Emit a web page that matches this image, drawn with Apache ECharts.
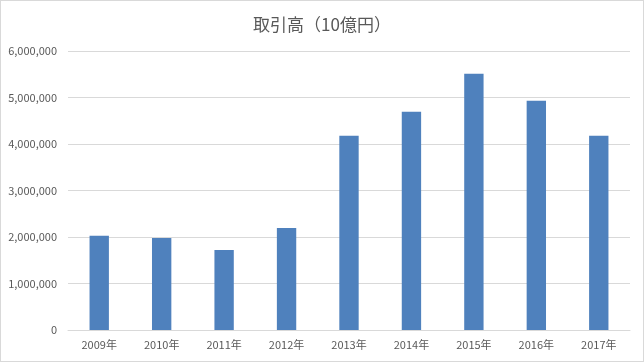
<!DOCTYPE html>
<html><head><meta charset="utf-8">
<script src="https://cdn.jsdelivr.net/npm/echarts@6/dist/echarts.min.js"></script>
<style>
html,body{margin:0;padding:0;background:#fff;}
#c{width:644px;height:362px;box-sizing:border-box;border:1px solid #d9d9d9;}
</style></head>
<body><div id="c"></div>
<script>
const categories = ['2009年','2010年','2011年','2012年','2013年','2014年','2015年','2016年','2017年'];
const values = [2025000, 1980000, 1720000, 2195000, 4180000, 4695000, 5510000, 4930000, 4180000];
const titleText = '取引高（10億円）';
const yMin = 0, yMax = 6000000, yStep = 1000000;

const chart = echarts.init(document.getElementById('c'), null, {renderer:'canvas'});
const font = '"Noto Sans CJK JP", "Noto Sans", sans-serif';
chart.setOption({
  animation:false,
  title:{text:titleText,left:'center',top:10,textStyle:{fontFamily:font,fontSize:17,fontWeight:'normal',color:'#595959'}},
  grid:{left:67,right:13,top:50,bottom:31},
  xAxis:{type:'category',data:categories,
    axisLine:{lineStyle:{color:'#d9d9d9'}},axisTick:{show:false},
    axisLabel:{fontFamily:font,fontSize:11,color:'#595959',margin:9}},
  yAxis:{type:'value',min:yMin,max:yMax,interval:yStep,
    axisLine:{show:false},axisTick:{show:false},
    splitLine:{lineStyle:{color:'#d9d9d9'}},
    axisLabel:{fontFamily:font,fontSize:11,color:'#595959',margin:11,
      formatter:v=>v.toLocaleString('en-US')}},
  series:[{type:'bar',data:values,barWidth:'31%',itemStyle:{color:'#4f81bd'}}]
});
</script></body></html>
